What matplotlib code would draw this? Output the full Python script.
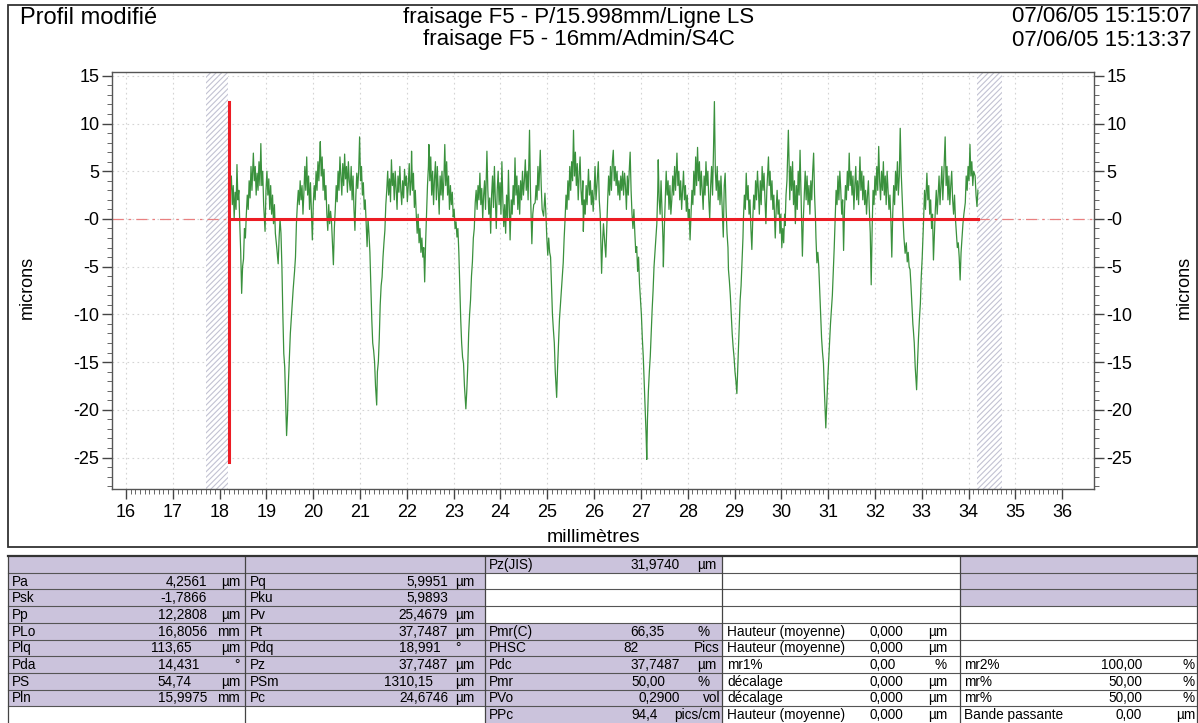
import numpy as np
import matplotlib
matplotlib.use('Agg')
import matplotlib.pyplot as plt
from matplotlib.ticker import MultipleLocator, FixedLocator
from matplotlib.patches import Rectangle

plt.rcParams['font.family'] = ['Liberation Sans', 'DejaVu Sans']
plt.rcParams['hatch.linewidth'] = 0.8

# --- header texts
title_left = 'Profil modifié'
title_lines = ['fraisage F5 - P/15.998mm/Ligne LS', 'fraisage F5 - 16mm/Admin/S4C']
date_lines = ['07/06/05 15:15:07', '07/06/05 15:13:37']

# --- axes
x_ticks = list(range(16, 37))
x_tick_labels = [str(v) for v in x_ticks]
y_ticks = [15, 10, 5, 0, -5, -10, -15, -20, -25]
y_tick_labels = ['15', '10', '5', '-0', '-5', '-10', '-15', '-20', '-25']
x_label = 'millimètres'
y_label = 'microns'

# evaluation length and excluded (hatched) zones, mm
eval_start, eval_end = 18.2, 34.2
excluded_zones = [(17.71, 18.18), (34.18, 34.72)]
red_vline_range = (-25.5, 12.3)

# --- profile (mm, microns)
profile = [
    (18.20, 0.5), (18.21, 6.1), (18.23, 3.0), (18.25, 4.5), (18.27, 1.5), (18.29, 3.5), (18.31, 0.0),
    (18.33, 2.8), (18.35, 1.0), (18.37, 5.7), (18.39, 2.0), (18.41, 3.0), (18.43, -0.5), (18.45, -3.5),
    (18.47, -7.8), (18.49, -5.0), (18.51, -4.2), (18.53, -1.0), (18.55, -2.0), (18.57, 0.5), (18.59, 2.5),
    (18.61, 1.0), (18.63, 4.0), (18.65, 2.2), (18.67, 5.5), (18.69, 3.0), (18.72, 6.9), (18.74, 4.0),
    (18.76, 5.5), (18.78, 2.5), (18.80, 4.8), (18.82, 3.0), (18.84, 6.0), (18.86, 3.5), (18.88, 7.9),
    (18.90, 3.5), (18.92, 5.0), (18.94, 1.5), (18.97, -1.3), (18.99, 3.0), (19.01, 5.0), (19.03, 2.5),
    (19.05, 4.2), (19.07, 1.0), (19.09, 3.5), (19.11, 0.5), (19.13, 2.5), (19.15, -0.5), (19.17, 1.5),
    (19.19, -1.5), (19.22, -3.0), (19.25, -4.7), (19.27, -2.0), (19.29, 0.0), (19.31, -1.5), (19.33, -5.0),
    (19.35, -10.0), (19.37, -14.1), (19.39, -15.5), (19.41, -19.0), (19.43, -22.7), (19.45, -20.5),
    (19.47, -17.0), (19.49, -14.5), (19.51, -12.0), (19.53, -10.5), (19.55, -9.0), (19.57, -7.4),
    (19.60, -5.5), (19.62, -4.0), (19.64, -0.5), (19.66, 1.5), (19.68, 3.0), (19.70, 1.5), (19.72, 4.0),
    (19.74, 2.0), (19.76, 3.5), (19.78, 0.5), (19.80, 2.8), (19.82, 5.5), (19.84, 3.0), (19.86, 6.5),
    (19.88, 2.5), (19.90, 4.5), (19.92, 1.0), (19.94, 3.8), (19.96, 0.8), (19.98, -2.2), (20.00, 1.5),
    (20.02, 3.5), (20.04, 2.0), (20.06, 5.0), (20.08, 3.0), (20.10, 6.0), (20.12, 4.0), (20.14, 7.0),
    (20.15, 8.1), (20.17, 4.5), (20.19, 6.5), (20.21, 3.0), (20.23, 5.2), (20.25, 2.0), (20.27, 3.5),
    (20.29, 0.5), (20.31, -1.2), (20.33, 1.5), (20.35, -0.5), (20.37, 0.8), (20.39, -0.3), (20.41, -2.5),
    (20.43, -4.8), (20.45, -1.0), (20.47, 1.0), (20.49, 3.5), (20.51, 1.8), (20.53, 5.0), (20.55, 3.0),
    (20.57, 6.5), (20.59, 4.5), (20.61, 2.5), (20.63, 5.8), (20.65, 3.5), (20.67, 6.8), (20.69, 4.2),
    (20.71, 5.5), (20.73, 2.8), (20.75, 6.0), (20.77, 4.0), (20.79, 3.0), (20.81, 5.5), (20.83, 2.0),
    (20.85, 4.5), (20.87, 1.0), (20.89, -1.2), (20.91, 2.5), (20.93, 4.8), (20.95, 3.2), (20.97, 5.0),
    (20.99, 8.6), (21.01, 4.0), (21.03, 5.5), (21.05, 2.5), (21.07, 3.8), (21.09, 1.0), (21.11, 2.0),
    (21.13, -0.5), (21.15, -2.9), (21.17, 0.0), (21.19, -1.5), (21.21, -3.5), (21.23, -7.0), (21.25, -10.5),
    (21.27, -13.0), (21.29, -13.8), (21.31, -15.0), (21.33, -17.5), (21.355, -19.5), (21.37, -16.0),
    (21.39, -15.0), (21.41, -12.5), (21.43, -9.0), (21.45, -7.0), (21.47, -6.1), (21.49, -4.0),
    (21.51, -2.5), (21.53, -1.2), (21.55, 1.5), (21.57, 3.0), (21.59, 5.0), (21.61, 2.5), (21.63, 4.2),
    (21.65, 1.8), (21.67, 6.2), (21.69, 3.5), (21.71, 4.8), (21.73, 2.0), (21.75, 5.0), (21.77, 3.2),
    (21.79, 1.0), (21.81, 4.5), (21.83, 2.8), (21.85, 5.5), (21.87, 3.0), (21.89, 1.5), (21.91, 4.0),
    (21.93, 2.2), (21.95, 5.2), (21.97, 3.5), (21.99, 4.5), (22.01, 1.8), (22.03, 3.5), (22.05, 5.8),
    (22.07, 2.5), (22.09, 4.0), (22.10, 7.1), (22.12, 3.0), (22.14, 4.8), (22.16, 1.2), (22.18, 3.0),
    (22.20, 0.5), (22.22, -1.5), (22.24, 0.5), (22.26, -2.5), (22.28, -1.0), (22.30, -3.5), (22.32, -2.0),
    (22.34, -4.0), (22.36, -3.0), (22.38, -6.6), (22.40, -2.5), (22.42, 0.5), (22.44, 3.5), (22.46, 5.5),
    (22.47, 7.8), (22.49, 4.0), (22.51, 6.5), (22.53, 2.5), (22.55, 5.0), (22.57, 1.5), (22.59, 4.2),
    (22.61, 6.0), (22.63, 2.0), (22.65, 5.5), (22.67, 3.0), (22.69, 0.5), (22.71, 4.5), (22.73, 2.5),
    (22.75, 5.0), (22.77, 2.0), (22.79, 4.0), (22.81, 7.8), (22.83, 3.5), (22.85, 6.0), (22.87, 2.5),
    (22.89, 4.5), (22.91, 1.0), (22.93, 3.5), (22.95, 1.5), (22.97, 2.8), (22.99, 0.2), (23.01, 1.0),
    (23.03, -1.0), (23.05, -0.3), (23.07, -1.9), (23.09, -1.0), (23.11, -3.5), (23.13, -7.0),
    (23.15, -10.5), (23.17, -13.0), (23.19, -14.5), (23.21, -15.1), (23.23, -17.5), (23.26, -19.9),
    (23.28, -18.0), (23.30, -15.5), (23.32, -12.0), (23.34, -10.0), (23.36, -8.5), (23.38, -6.0),
    (23.40, -4.5), (23.42, -2.0), (23.44, -1.0), (23.46, 1.7), (23.48, 3.0), (23.50, 1.0), (23.52, 3.5),
    (23.54, 2.0), (23.56, 4.8), (23.58, 1.5), (23.60, 3.2), (23.62, 0.0), (23.64, 2.5), (23.66, 4.0),
    (23.68, 1.0), (23.71, 7.1), (23.73, 3.0), (23.75, 0.5), (23.77, 2.2), (23.79, -1.5), (23.81, 2.5),
    (23.83, 4.5), (23.85, 1.2), (23.87, 5.5), (23.89, 2.0), (23.91, -1.0), (23.93, 3.0), (23.95, 5.0),
    (23.97, 1.5), (23.99, 3.8), (24.01, 0.5), (24.03, 6.0), (24.05, 2.0), (24.07, -0.8), (24.09, 1.5),
    (24.11, -1.5), (24.13, 2.5), (24.15, 0.0), (24.17, 5.1), (24.19, 1.0), (24.205, -2.2), (24.23, 2.0),
    (24.25, 0.5), (24.27, 3.5), (24.29, 1.5), (24.31, 6.4), (24.33, 2.5), (24.35, 4.5), (24.37, 1.0),
    (24.39, 3.5), (24.41, 0.5), (24.43, 4.0), (24.45, 2.0), (24.47, 5.0), (24.49, 2.5), (24.51, 4.0),
    (24.53, 6.2), (24.55, 3.0), (24.57, 5.0), (24.59, 2.0), (24.62, 9.3), (24.64, 3.0), (24.65, 1.0),
    (24.67, -2.6), (24.69, 0.5), (24.71, 1.5), (24.74, 1.7), (24.76, 3.5), (24.78, 2.0), (24.80, 5.5),
    (24.82, 3.0), (24.85, 7.2), (24.87, 3.5), (24.89, 1.0), (24.92, 0.3), (24.95, 2.7), (24.97, 0.5),
    (24.99, -2.0), (25.01, -3.8), (25.03, -2.0), (25.05, -3.5), (25.07, -4.0), (25.09, -7.0),
    (25.11, -10.0), (25.13, -11.6), (25.15, -13.0), (25.17, -16.0), (25.20, -18.7), (25.22, -15.5),
    (25.24, -13.0), (25.26, -10.5), (25.28, -9.0), (25.30, -7.5), (25.32, -6.0), (25.34, -4.6),
    (25.36, -2.0), (25.38, 0.0), (25.40, 2.5), (25.42, 1.0), (25.44, 4.0), (25.46, 2.0), (25.48, 5.5),
    (25.50, 3.0), (25.52, 6.0), (25.54, 4.0), (25.56, 9.3), (25.58, 4.5), (25.60, 7.0), (25.62, 3.5),
    (25.64, 5.8), (25.66, 2.0), (25.68, 4.5), (25.70, 6.5), (25.72, 3.0), (25.74, 1.5), (25.76, 4.0),
    (25.77, -1.3), (25.79, 2.0), (25.81, 0.5), (25.83, 3.5), (25.85, 1.5), (25.88, 5.2), (25.90, 2.5),
    (25.92, 4.0), (25.94, 1.5), (25.96, 3.0), (25.98, 0.8), (26.00, 2.8), (26.02, 5.5), (26.04, 2.0),
    (26.06, 3.5), (26.09, 6.0), (26.11, 2.0), (26.13, 0.5), (26.16, -5.7), (26.18, -2.5), (26.20, -0.5),
    (26.22, -2.0), (26.25, -4.0), (26.27, -1.0), (26.29, 2.0), (26.31, 4.5), (26.33, 2.5), (26.35, 5.5),
    (26.37, 3.0), (26.39, 6.0), (26.41, 7.2), (26.43, 4.0), (26.45, 5.5), (26.47, 3.5), (26.49, 5.0),
    (26.51, 2.5), (26.53, 4.0), (26.55, 2.0), (26.57, 4.5), (26.59, 3.0), (26.61, 5.0), (26.63, 2.5),
    (26.65, 4.8), (26.67, 3.5), (26.69, 1.0), (26.71, 4.5), (26.73, 2.5), (26.75, 5.0), (26.77, 7.0),
    (26.79, 3.0), (26.81, 0.5), (26.83, -1.0), (26.85, 1.0), (26.87, -1.5), (26.89, -3.5), (26.91, -2.9),
    (26.93, -5.5), (26.95, -4.0), (26.97, -6.8), (26.99, -8.5), (27.01, -10.0), (27.03, -12.5),
    (27.05, -14.4), (27.07, -17.0), (27.09, -19.5), (27.11, -22.5), (27.125, -25.2), (27.14, -21.0),
    (27.16, -18.0), (27.18, -16.0), (27.20, -14.4), (27.22, -12.0), (27.24, -9.5), (27.26, -7.5),
    (27.28, -5.0), (27.30, -3.5), (27.32, -2.0), (27.34, -0.5), (27.36, 3.0), (27.37, 6.2), (27.39, 2.0),
    (27.41, 0.5), (27.43, 4.0), (27.45, 1.0), (27.47, -2.0), (27.48, -5.0), (27.50, -1.0), (27.52, 2.0),
    (27.54, 5.0), (27.56, 2.5), (27.58, 4.0), (27.60, 1.0), (27.62, 3.5), (27.64, 0.5), (27.66, 2.0),
    (27.68, 4.5), (27.70, 2.5), (27.72, 5.5), (27.74, 3.0), (27.77, 6.9), (27.79, 3.5), (27.81, 5.0),
    (27.83, 2.0), (27.85, 4.0), (27.87, 1.0), (27.89, 3.0), (27.91, 5.0), (27.93, 2.0), (27.95, 3.5),
    (27.97, 0.8), (27.99, 2.5), (28.01, 0.0), (28.03, 1.0), (28.05, -2.2), (28.07, 0.5), (28.09, 3.0),
    (28.11, 1.5), (28.13, 5.0), (28.15, 2.5), (28.17, 6.5), (28.19, 3.5), (28.21, 7.5), (28.23, 4.0),
    (28.25, 6.0), (28.27, 2.5), (28.29, 5.0), (28.31, 3.0), (28.33, 1.0), (28.35, 4.5), (28.37, 2.5),
    (28.39, 6.0), (28.41, 3.5), (28.43, 5.0), (28.45, 2.0), (28.47, 0.0), (28.49, 3.5), (28.51, 5.5),
    (28.53, 2.5), (28.55, 7.0), (28.57, 12.3), (28.59, 5.0), (28.61, 3.0), (28.63, 5.5), (28.65, 2.0),
    (28.67, 4.0), (28.69, 1.5), (28.71, 4.5), (28.73, 2.0), (28.76, -1.9), (28.78, 3.5), (28.80, 4.8),
    (28.82, 1.0), (28.84, -1.5), (28.86, -3.0), (28.87, -5.3), (28.89, -6.5), (28.91, -8.0),
    (28.93, -10.0), (28.95, -12.0), (28.97, -13.4), (28.99, -14.5), (29.01, -16.0), (29.03, -17.0),
    (29.05, -18.3), (29.07, -15.5), (29.09, -13.0), (29.10, -11.5), (29.12, -8.5), (29.14, -7.0),
    (29.16, -4.5), (29.18, -2.0), (29.19, 0.0), (29.21, 2.5), (29.23, 1.0), (29.25, 4.8), (29.27, 2.0),
    (29.29, 3.5), (29.31, 0.5), (29.33, 2.0), (29.35, -1.0), (29.37, -3.2), (29.39, 0.0), (29.41, 2.5),
    (29.43, 1.0), (29.45, 4.0), (29.47, 2.0), (29.49, 5.0), (29.51, 3.0), (29.53, 0.5), (29.55, 4.0),
    (29.57, 1.5), (29.59, 5.5), (29.61, 3.0), (29.63, 4.8), (29.65, 2.0), (29.67, -0.5), (29.69, 3.0),
    (29.71, 5.0), (29.725, 6.5), (29.74, 3.5), (29.76, 5.0), (29.78, 2.0), (29.80, 4.0), (29.82, 1.0),
    (29.84, 2.5), (29.86, -0.5), (29.87, -2.0), (29.89, 1.0), (29.91, 3.0), (29.93, 0.5), (29.95, 2.0),
    (29.97, -1.5), (29.99, 0.5), (30.01, -3.0), (30.03, -1.0), (30.05, -2.5), (30.07, 0.5), (30.08, -0.7),
    (30.10, 2.5), (30.12, 4.0), (30.15, 9.3), (30.17, 5.0), (30.18, 2.0), (30.20, 5.5), (30.22, 3.0),
    (30.24, 6.0), (30.26, 1.5), (30.28, 4.0), (30.30, -0.5), (30.32, 3.5), (30.34, 1.0), (30.36, 5.0),
    (30.38, 2.5), (30.40, 7.2), (30.42, 3.0), (30.43, 0.5), (30.45, -3.9), (30.47, 0.0), (30.49, 2.5),
    (30.51, 5.0), (30.53, 2.0), (30.55, 4.5), (30.57, 1.5), (30.59, 3.5), (30.61, 0.5), (30.63, 4.0),
    (30.65, 2.0), (30.67, 5.0), (30.69, 6.9), (30.71, 2.5), (30.73, 0.0), (30.74, -2.0), (30.76, -4.6),
    (30.78, -3.5), (30.80, -5.0), (30.82, -7.5), (30.84, -10.0), (30.86, -12.5), (30.88, -14.0),
    (30.90, -15.1), (30.92, -18.0), (30.95, -21.9), (30.97, -19.5), (30.99, -17.0), (31.01, -15.1),
    (31.03, -13.0), (31.05, -11.0), (31.07, -9.5), (31.09, -8.0), (31.11, -5.5), (31.13, -3.0),
    (31.15, 0.0), (31.17, 3.0), (31.19, 1.5), (31.21, 4.5), (31.23, 2.0), (31.25, 5.0), (31.27, 3.0),
    (31.29, 0.5), (31.31, 2.0), (31.33, -3.3), (31.35, 1.0), (31.37, 3.5), (31.39, 2.0), (31.41, 5.0),
    (31.43, 3.0), (31.45, 6.9), (31.47, 3.5), (31.49, 5.0), (31.51, 2.5), (31.53, 4.5), (31.55, 1.0),
    (31.57, 3.5), (31.59, 5.5), (31.61, 2.0), (31.63, 4.0), (31.65, 1.5), (31.68, 6.5), (31.70, 3.0),
    (31.72, 5.0), (31.74, 2.0), (31.76, 4.5), (31.78, 1.5), (31.80, 3.0), (31.82, 0.5), (31.84, 2.5),
    (31.86, 4.0), (31.88, 1.0), (31.90, -1.5), (31.92, -6.9), (31.94, -1.0), (31.96, 3.0), (31.98, 1.5),
    (32.00, 4.5), (32.02, 2.5), (32.04, 5.5), (32.06, 3.0), (32.08, 7.6), (32.10, 4.0), (32.12, 2.0),
    (32.14, 5.0), (32.16, 3.0), (32.18, 6.0), (32.20, 2.5), (32.22, 4.5), (32.24, 1.5), (32.26, 5.0),
    (32.28, 3.0), (32.30, 1.0), (32.32, 2.5), (32.34, 0.0), (32.36, -4.0), (32.38, 0.5), (32.40, 3.5),
    (32.42, 1.5), (32.44, 5.0), (32.46, 3.0), (32.48, 6.0), (32.50, 2.5), (32.52, 4.5), (32.54, 9.5),
    (32.56, 5.0), (32.58, 2.5), (32.60, 0.0), (32.62, -2.0), (32.645, -3.6), (32.67, -2.5),
    (32.69, -4.5), (32.71, -3.5), (32.73, -5.0), (32.75, -5.3), (32.77, -7.0), (32.79, -9.0),
    (32.81, -11.0), (32.82, -11.6), (32.84, -13.0), (32.86, -15.5), (32.89, -17.9), (32.91, -15.0),
    (32.93, -12.5), (32.95, -10.5), (32.97, -8.9), (32.99, -6.0), (33.01, -4.0), (33.03, -1.5),
    (33.04, 0.0), (33.06, 3.0), (33.08, 1.0), (33.11, 4.8), (33.13, 2.0), (33.15, 3.5), (33.17, 0.5),
    (33.19, 2.0), (33.21, -1.0), (33.23, 0.5), (33.25, -4.3), (33.27, -1.5), (33.29, 1.0), (33.31, 3.0),
    (33.33, 0.5), (33.35, 2.5), (33.37, 4.5), (33.39, 1.5), (33.41, 3.5), (33.43, 5.5), (33.45, 2.0),
    (33.47, 4.5), (33.50, 8.6), (33.52, 3.5), (33.54, 5.5), (33.56, 2.0), (33.58, 4.5), (33.60, 1.5),
    (33.62, 3.5), (33.64, 5.0), (33.66, 2.0), (33.68, 0.5), (33.70, 2.5), (33.72, 0.0), (33.74, -1.5),
    (33.76, -3.0), (33.78, -2.5), (33.80, -4.0), (33.82, -6.4), (33.84, -3.5), (33.86, -2.0),
    (33.88, -0.5), (33.90, 0.5), (33.93, 1.7), (33.95, 4.5), (33.97, 3.0), (33.99, 5.5), (34.01, 4.0),
    (34.03, 7.8), (34.05, 4.5), (34.07, 6.0), (34.09, 3.5), (34.11, 5.0), (34.14, 4.5), (34.16, 2.5),
    (34.18, 1.3), (34.20, 3.0),
]

# --- parameter table (row 0 is the header row)
col1_labels = ['', 'Pa', 'Psk', 'Pp', 'PLo', 'Plq', 'Pda', 'PS', 'Pln', '']
col1_values = ['', '4,2561', '-1,7866', '12,2808', '16,8056', '113,65', '14,431', '54,74', '15,9975', '']
col1_units = ['', 'µm', '', 'µm', 'mm', 'µm', '°', 'µm', 'mm', '']
col2_labels = ['', 'Pq', 'Pku', 'Pv', 'Pt', 'Pdq', 'Pz', 'PSm', 'Pc', '']
col2_values = ['', '5,9951', '5,9893', '25,4679', '37,7487', '18,991', '37,7487', '1310,15', '24,6746', '']
col2_units = ['', 'µm', '', 'µm', 'µm', '°', 'µm', 'µm', 'µm', '']
col3_labels = ['Pz(JIS)', '', '', '', 'Pmr(C)', 'PHSC', 'Pdc', 'Pmr', 'PVo', 'PPc']
col3_values = ['31,9740', '', '', '', '66,35', '82', '37,7487', '50,00', '0,2900', '94,4']
col3_units = ['µm', '', '', '', '%', 'Pics', 'µm', '%', 'vol', 'pics/cm']
col4_labels = ['', '', '', '', 'Hauteur (moyenne)', 'Hauteur (moyenne)', 'mr1%', 'décalage', 'décalage',
               'Hauteur (moyenne)']
col4_values = ['', '', '', '', '0,000', '0,000', '0,00', '0,000', '0,000', '0,000']
col4_units = ['', '', '', '', 'µm', 'µm', '%', 'µm', 'µm', 'µm']
col5_labels = ['', '', '', '', '', '', 'mr2%', 'mr%', 'mr%', 'Bande passante']
col5_values = ['', '', '', '', '', '', '100,00', '50,00', '50,00', '0,00']
col5_units = ['', '', '', '', '', '', '%', '%', '%', 'µm']

W, H = 1198, 723
fig = plt.figure(figsize=(W / 100, H / 100), dpi=100)
fig.patch.set_facecolor('white')

# overlay in pixel coordinates for frames, headers and table
ov = fig.add_axes([0, 0, 1, 1])
ov.set_xlim(0, W)
ov.set_ylim(H, 0)
ov.axis('off')

ov.add_patch(Rectangle((8, 5), 1189, 542, fill=False, edgecolor='#333333', lw=1.3))
ov.text(20, 18, title_left, fontsize=17, ha='left', va='center')
ov.text(579, 17, title_lines[0], fontsize=16, ha='center', va='center')
ov.text(579, 40, title_lines[1], fontsize=16, ha='center', va='center')
ov.text(1191, 17, date_lines[0], fontsize=16, ha='right', va='center')
ov.text(1191, 40, date_lines[1], fontsize=16, ha='right', va='center')
ov.text(27, 287, y_label, fontsize=13, rotation=90, ha='center', va='center')
ov.text(1184, 287, y_label, fontsize=13, rotation=90, ha='center', va='center')
ov.text(594, 537, x_label, fontsize=14, ha='center', va='center')

# table
shade = '#cbc3dc'
tbl_fs = 9.8
digit_w = 0.556 * tbl_fs * 100 / 72
row_top, row_h, n_rows = 556, 16.7, 10
col_edges = [8, 245, 485, 722, 960, 1197]
columns = [
    (col1_labels, col1_values, col1_units),
    (col2_labels, col2_values, col2_units),
    (col3_labels, col3_values, col3_units),
    (col4_labels, col4_values, col4_units),
    (col5_labels, col5_values, col5_units),
]
shaded_rows = [range(0, 9), range(0, 9), [0, 4, 5, 6, 7, 8, 9], [], [0, 1, 2]]
label_x = [12, 250, 489, 727, 964]
value_anchor = [207, 448, 680, 911, 1157]
value_int_left = [150, 390, 623, 873, 1100]
unit_pos = [(240, 'right'), (455, 'left'), (697, 'left'), (947, 'right'), (1195, 'right')]
wide_units = ('Pics', 'vol', 'pics/cm')

for c, (labels, values, units) in enumerate(columns):
    x0, x1 = col_edges[c], col_edges[c + 1]
    for r in shaded_rows[c]:
        ov.add_patch(Rectangle((x0, row_top + r * row_h), x1 - x0, row_h,
                               facecolor=shade, edgecolor='none', zorder=1))
    for r in range(n_rows):
        yc = row_top + (r + 0.5) * row_h + 0.5
        if labels[r]:
            ov.text(label_x[c], yc, labels[r], fontsize=tbl_fs, ha='left', va='center', zorder=3)
        v = values[r]
        if v:
            if ',' in v:
                nd = len(v.split(',')[1])
                ov.text(value_anchor[c] - (4 - nd) * digit_w, yc, v, fontsize=tbl_fs,
                        ha='right', va='center', zorder=3)
            else:
                ov.text(value_int_left[c], yc, v, fontsize=tbl_fs, ha='left', va='center', zorder=3)
        u = units[r]
        if u:
            if u in wide_units:
                ov.text(x1 - 2, yc, u, fontsize=tbl_fs, ha='right', va='center', zorder=3)
            else:
                ux, uha = unit_pos[c]
                ov.text(ux, yc, u, fontsize=tbl_fs, ha=uha, va='center', zorder=3)

for r in range(1, n_rows):
    ov.plot([col_edges[0], col_edges[-1]], [row_top + r * row_h] * 2, color='#555555', lw=0.8, zorder=2)
for xe in col_edges:
    ov.plot([xe, xe], [row_top, H], color='#444444', lw=0.9, zorder=2)
ov.plot([col_edges[0], col_edges[-1]], [row_top, row_top], color='#333333', lw=1.6, zorder=2)

# main profile axes
ax = fig.add_axes([112 / W, 1 - 489 / H, (1094 - 112) / W, (489 - 72) / H])
ax.set_xlim(15.7, 36.68)
ax.set_ylim(-28.3, 15.4)

for a, b in excluded_zones:
    ax.axvspan(a, b, facecolor='white', hatch='//////', edgecolor='#c2c2d2', lw=0, zorder=1)

px = [p[0] for p in profile]
py = [p[1] for p in profile]
ax.plot(px, py, color='#3a913d', lw=0.9, zorder=3)

red = '#ec1c24'
ax.plot([15.7, eval_start], [0, 0], color='#e98080', lw=0.9, ls=(0, (9, 4, 2, 4)), zorder=2)
ax.plot([eval_end, 36.68], [0, 0], color='#e98080', lw=0.9, ls=(0, (9, 4, 2, 4)), zorder=2)
ax.plot([eval_start, eval_end], [0, 0], color=red, lw=2.2, zorder=4)
ax.plot([eval_start, eval_start], red_vline_range, color=red, lw=2.2, zorder=4)

ax.set_xticks(x_ticks)
ax.set_xticklabels(x_tick_labels)
ax.xaxis.set_minor_locator(FixedLocator(np.arange(16, 36.001, 0.1)))
ax.set_yticks(y_ticks)
ax.set_yticklabels(y_tick_labels)
ax.yaxis.set_minor_locator(MultipleLocator(1))

ax.tick_params(axis='x', which='major', length=7, width=1, color='#444444', labelsize=13, pad=4)
ax.tick_params(axis='x', which='minor', length=3.5, width=0.7, color='#666666')
ax.tick_params(axis='y', which='both', left=True, right=True, labelleft=True, labelright=True)
ax.tick_params(axis='y', which='major', length=7, width=1, color='#444444', labelsize=13, pad=2)
ax.tick_params(axis='y', which='minor', length=3.5, width=0.7, color='#666666')

ax.grid(True, which='major', color='#d4d4d4', lw=0.8, ls=(0, (1.5, 3)), zorder=0)
ax.set_axisbelow(True)
for s in ax.spines.values():
    s.set_color('#555555')
    s.set_linewidth(1.0)

fig.savefig('out.png', dpi=100)
